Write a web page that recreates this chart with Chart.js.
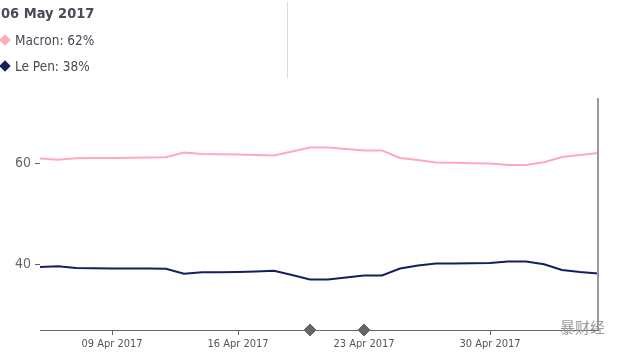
<!DOCTYPE html>
<html>
<head>
<meta charset="utf-8">
<script src="https://cdn.jsdelivr.net/npm/chart.js@4"></script>
<style>
  body { margin: 0; background: #fff; }
  #wrap { position: relative; width: 622px; height: 355px; overflow: hidden; }
  #chart { position: absolute; left: 0; top: 0; }
  .legend { position: absolute; left: 0; top: 0; font-family: 'Liberation Sans Narrow', 'DejaVu Sans Condensed', sans-serif; color: #4a4a58; }
  .legend .title { position: absolute; left: 1px; top: 5px; font-size: 14.5px; font-weight: bold; white-space: nowrap; }
  .legend .row { position: absolute; left: 0; font-size: 13.5px; white-space: nowrap; }
  .legend .dia { display: inline-block; width: 8px; height: 8px; transform: rotate(45deg); margin: 0 6px 1px 1px; }
  .divider { position: absolute; left: 287px; top: 2px; width: 1px; height: 76px; background: #ddd; }
  .mark { position: absolute; right: 17px; top: 316px; font-family: 'Noto Sans CJK SC', sans-serif; font-size: 15px; color: #9a9a9a; }
</style>
</head>
<body>
<div id="wrap">
  <canvas id="chart" width="622" height="355"></canvas>
  <div class="legend">
    <div class="title">06 May 2017</div>
    <div class="row" style="top:32px"><span class="dia" style="background:#ffa9b9"></span>Macron: 62%</div>
    <div class="row" style="top:58px"><span class="dia" style="background:#14205e"></span>Le Pen: 38%</div>
  </div>
  <div class="divider"></div>
  <div class="mark">暴财经</div>
</div>
<script>
const fechas = ['05 Apr','06 Apr','07 Apr','08 Apr','09 Apr','10 Apr','11 Apr','12 Apr','13 Apr','14 Apr',
  '15 Apr','16 Apr','17 Apr','18 Apr','19 Apr','20 Apr','21 Apr','22 Apr','23 Apr','24 Apr','25 Apr',
  '26 Apr','27 Apr','28 Apr','29 Apr','30 Apr','01 May','02 May','03 May','04 May','05 May','06 May']
const macron = [61.0, 60.75, 61.05, 61.1, 61.1, 61.15, 61.2, 61.25, 62.2, 61.9, 61.85, 61.8, 61.7, 61.6,
  62.4, 63.2, 63.2, 62.9, 62.6, 62.6, 61.1, 60.7, 60.2, 60.15, 60.05, 60.0, 59.7, 59.7, 60.25, 61.3, 61.7, 62.1]
const lePen = [39.5, 39.65, 39.3, 39.25, 39.2, 39.2, 39.2, 39.15, 38.15, 38.45, 38.45, 38.5, 38.6, 38.75,
  37.9, 37.0, 37.0, 37.4, 37.8, 37.8, 39.2, 39.8, 40.2, 40.2, 40.25, 40.3, 40.6, 40.6, 40.05, 38.9, 38.5, 38.2]
const eventos = ['20 Apr', '23 Apr']
const xTicks = ['09 Apr', '16 Apr', '23 Apr', '30 Apr']
const yTicks = [40, 60]
const yMin = 27
const yMax = 73

const serie = vals => vals.map((v, i) => ({ x: i, y: v }))

const lineaFinal = {
    id: 'lineaFinal',
    afterDatasetsDraw(chart) {
        const ctx = chart.ctx
        const x = chart.scales.x.getPixelForValue(fechas.length - 1)
        ctx.save()
        ctx.strokeStyle = '#9a9a9a'
        ctx.lineWidth = 2
        ctx.beginPath()
        ctx.moveTo(x, chart.chartArea.top)
        ctx.lineTo(x, chart.chartArea.bottom)
        ctx.stroke()
        ctx.restore()
    }
}

new Chart(document.getElementById('chart'), {
    type: 'line',
    data: {
        datasets: [{
            label: 'Macron',
            data: serie(macron),
            borderColor: '#ffa9b9',
            borderWidth: 2,
            pointRadius: 0,
            tension: 0
        }, {
            label: 'Le Pen',
            data: serie(lePen),
            borderColor: '#14205e',
            borderWidth: 2,
            pointRadius: 0,
            tension: 0
        }, {
            type: 'scatter',
            label: 'eventos',
            data: eventos.map(f => ({ x: fechas.indexOf(f), y: yMin })),
            pointStyle: 'rectRot',
            pointRadius: 6,
            backgroundColor: '#666',
            borderColor: '#666',
            clip: false
        }]
    },
    options: {
        responsive: false,
        animation: false,
        layout: { padding: { top: 98, right: 24, left: 0, bottom: 0 } },
        plugins: { legend: { display: false }, tooltip: { enabled: false } },
        scales: {
            x: {
                type: 'linear',
                min: 0,
                max: fechas.length - 1,
                afterBuildTicks: s => { s.ticks = xTicks.map(f => ({ value: fechas.indexOf(f) })) },
                afterFit: s => { s.height = 25 },
                border: { display: true, color: '#666', width: 1 },
                grid: { drawOnChartArea: false, drawTicks: true, tickLength: 5, color: '#666' },
                ticks: {
                    padding: 3,
                    color: '#555',
                    font: { family: "'Liberation Sans Narrow', 'DejaVu Sans Condensed', sans-serif", size: 11 },
                    callback: v => fechas[v] + ' 2017',
                    maxRotation: 0
                }
            },
            y: {
                min: yMin,
                max: yMax,
                afterBuildTicks: s => { s.ticks = yTicks.map(v => ({ value: v })) },
                afterFit: s => { s.width = 40 },
                border: { display: false },
                grid: { drawOnChartArea: false, drawTicks: true, tickLength: 5, color: '#666' },
                ticks: {
                    padding: 4,
                    color: '#666',
                    font: { family: "'Liberation Sans Narrow', 'DejaVu Sans Condensed', sans-serif", size: 14 }
                }
            }
        }
    },
    plugins: [lineaFinal]
})
</script>
</body>
</html>
